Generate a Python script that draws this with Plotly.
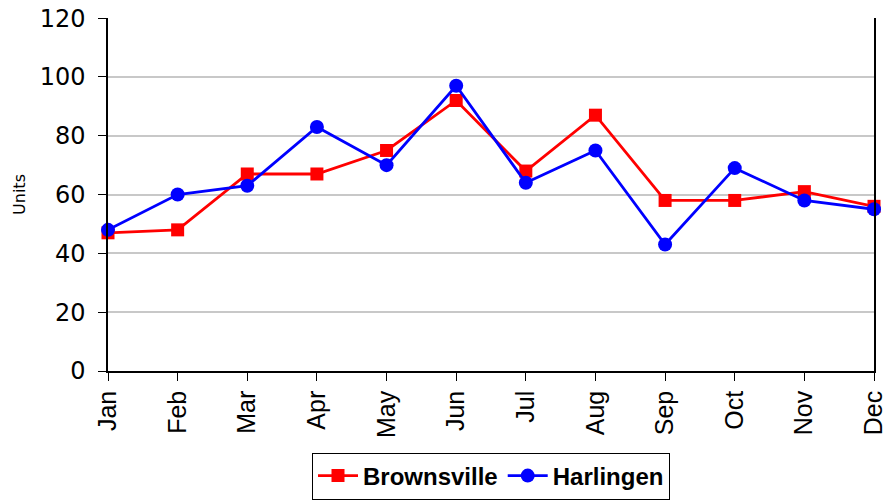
import plotly.graph_objects as go

months = ['Jan', 'Feb', 'Mar', 'Apr', 'May', 'Jun', 'Jul', 'Aug', 'Sep', 'Oct', 'Nov', 'Dec']
brownsville = [47, 48, 67, 67, 75, 92, 68, 87, 58, 58, 61, 56]
harlingen = [48, 60, 63, 83, 70, 97, 64, 75, 43, 69, 58, 55]
y_ticks = [0, 20, 40, 60, 80, 100, 120]

fig = go.Figure()

fig.add_trace(go.Scatter(
    x=months, y=brownsville, name='Brownsville',
    mode='lines+markers',
    line=dict(color='#ff0000', width=2.8),
    marker=dict(symbol='square', size=13, color='#ff0000'),
    cliponaxis=False
))

fig.add_trace(go.Scatter(
    x=months, y=harlingen, name='Harlingen',
    mode='lines+markers',
    line=dict(color='#0000ff', width=2.8),
    marker=dict(symbol='circle', size=14, color='#0000ff'),
    cliponaxis=False
))

# the page body adds an 8px offset, so the figure is sized to the visible area
fig.update_layout(
    width=883, height=493,
    margin=dict(l=100, r=17, t=10, b=130),
    plot_bgcolor='white',
    paper_bgcolor='white',
    font=dict(family='Liberation Sans, Arial, sans-serif', color='black'),
    showlegend=True,
    legend=dict(
        orientation='h',
        x=0.5, xanchor='center',
        yref='container', y=0.003, yanchor='bottom',
        bordercolor='black', borderwidth=1,
        font=dict(family='Liberation Sans, Arial, sans-serif', size=24, weight='bold'),
        itemwidth=40,
    ),
)

fig.update_xaxes(
    type='category',
    range=[0, 11],
    automargin=False,
    showline=True, linecolor='black', linewidth=1.5,
    ticks='outside', ticklen=8, tickcolor='black',
    tickangle=-90,
    tickfont=dict(family='Liberation Sans, Arial, sans-serif', size=25),
    showgrid=False,
)

fig.update_yaxes(
    range=[0, 120.05],
    tickvals=y_ticks,
    automargin=False,
    ticklabeloverflow='allow',
    ticklabelstandoff=8,
    showline=True, linecolor='black', linewidth=1.5, mirror=True,
    ticks='outside', ticklen=8, tickcolor='black',
    tickfont=dict(family='DejaVu Sans, Verdana, sans-serif', size=24),
    showgrid=True, gridcolor='#c8c8c8', gridwidth=1.5,
    zeroline=False,
    title=dict(text='Units', font=dict(family='DejaVu Sans, Verdana, sans-serif', size=16), standoff=10),
)

fig.write_html('out.html')
